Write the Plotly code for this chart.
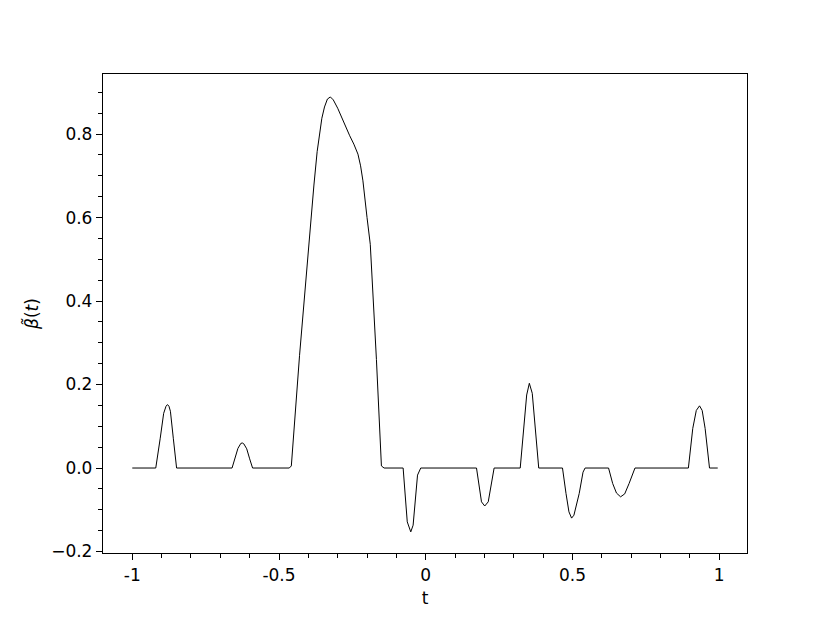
import plotly.graph_objects as go

# knots of the estimated curve beta~(t)
t_vals = [-1.0, -0.92, -0.905, -0.893, -0.885, -0.88, -0.875, -0.87, -0.86, -0.849,
          -0.66, -0.65, -0.64, -0.63, -0.625, -0.62, -0.61, -0.60, -0.59,
          -0.465, -0.458, -0.43, -0.398, -0.381, -0.370, -0.354, -0.345, -0.335, -0.325,
          -0.315, -0.30, -0.288, -0.272, -0.259, -0.245, -0.231, -0.222, -0.214, -0.200,
          -0.189, -0.168, -0.151, -0.142,
          -0.077, -0.063, -0.051, -0.043, -0.028, -0.017,
          0.173, 0.19, 0.201, 0.213, 0.233,
          0.322, 0.344, 0.353, 0.363, 0.385,
          0.466, 0.478, 0.488, 0.497, 0.505, 0.523, 0.536, 0.543,
          0.623, 0.637, 0.650, 0.664, 0.678, 0.693, 0.713,
          0.895, 0.910, 0.922, 0.933, 0.942, 0.952, 0.967, 0.995]
beta_vals = [0.0, 0.0, 0.07, 0.131, 0.148, 0.152, 0.148, 0.136, 0.07, 0.0,
             0.0, 0.025, 0.047, 0.059, 0.06, 0.058, 0.046, 0.022, 0.0,
             0.0, 0.005, 0.27, 0.546, 0.678, 0.758, 0.838, 0.865, 0.884, 0.889,
             0.882, 0.862, 0.842, 0.816, 0.796, 0.776, 0.752, 0.724, 0.688, 0.600,
             0.536, 0.26, 0.005, 0.0,
             0.0, -0.129, -0.153, -0.137, -0.017, 0.0,
             0.0, -0.081, -0.091, -0.081, 0.0,
             0.0, 0.175, 0.203, 0.179, 0.0,
             0.0, -0.061, -0.105, -0.12, -0.113, -0.061, -0.01, 0.0,
             0.0, -0.037, -0.060, -0.069, -0.062, -0.037, 0.0,
             0.0, 0.095, 0.138, 0.149, 0.138, 0.095, 0.0, 0.0]

x_ticks = [-1, -0.5, 0, 0.5, 1]
x_labels = ["-1", "-0.5", "0", "0.5", "1"]
y_ticks = [-0.2, 0.0, 0.2, 0.4, 0.6, 0.8]
y_labels = ["\u22120.2", "0.0", "0.2", "0.4", "0.6", "0.8"]

fig = go.Figure()
fig.add_trace(go.Scatter(x=t_vals, y=beta_vals, mode="lines",
                         line=dict(color="black", width=1), showlegend=False))

font = dict(family="DejaVu Sans", size=17, color="black")
axis_common = dict(showline=True, linecolor="black", linewidth=1.3, mirror=True,
                   ticks="outside", ticklen=6, tickwidth=1.2, tickcolor="black",
                   showgrid=False, zeroline=False, tickfont=font)

fig.update_layout(
    width=830, height=623,
    margin=dict(l=95, r=91, t=66, b=78),
    paper_bgcolor="white", plot_bgcolor="white",
    font=font,
    xaxis=dict(range=[-1.09975, 1.09475], tickmode="array", tickvals=x_ticks, ticktext=x_labels,
               minor=dict(tickmode="linear", tick0=0, dtick=0.1, ticks="outside", ticklen=3.5,
                          tickwidth=1, tickcolor="black"),
               title=dict(text="t", font=font, standoff=8), **axis_common),
    yaxis=dict(range=[-0.2036, 0.944], tickmode="array", tickvals=y_ticks, ticktext=y_labels,
               minor=dict(tickmode="linear", tick0=0, dtick=0.05, ticks="outside", ticklen=3.5,
                          tickwidth=1, tickcolor="black"),
               title=dict(text="<i>β\u0303</i>(<i>t</i>)", font=font, standoff=8), **axis_common),
)

fig.write_html("out.html")
